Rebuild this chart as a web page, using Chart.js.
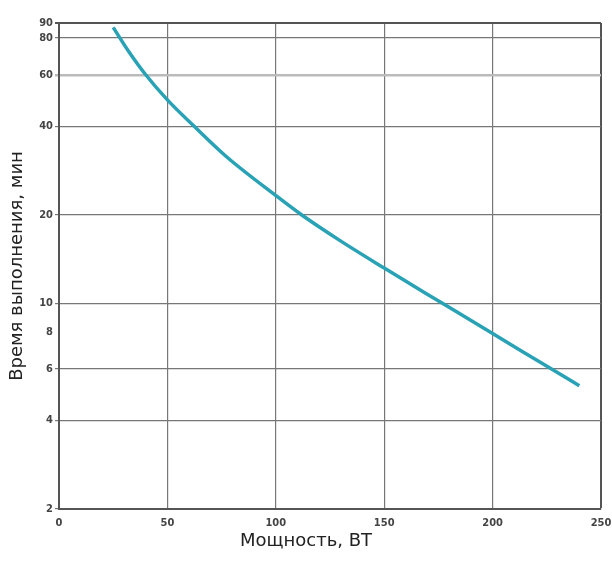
<!DOCTYPE html>
<html>
<head>
<meta charset="utf-8">
<script src="https://cdn.jsdelivr.net/npm/chart.js@4.4.0/dist/chart.umd.min.js"></script>
<style>
  html, body { margin: 0; padding: 0; background: #fff; }
  canvas { display: block; }
</style>
</head>
<body>
<canvas id="chart" width="612" height="563"></canvas>
<script>
// values
const power = [25, 32, 40, 50, 62, 77, 100, 112, 130, 150, 178, 200, 227, 240];
const minutes = [87, 72.3, 60, 49.3, 40.3, 31.7, 23.3, 20, 16.3, 13.2, 9.9, 7.9, 6.0, 5.25];
const yTicks = [2, 4, 6, 8, 10, 20, 40, 60, 80, 90];
const xTicks = [0, 50, 100, 150, 200, 250];

const tickFont = { family: 'DejaVu Sans Condensed', size: 11, weight: 'bold' };
const titleFont = { family: 'DejaVu Sans', size: 18, weight: 'normal', lineHeight: 1.2 };
const titlePadBottom = 11;

const ctx = document.getElementById('chart').getContext('2d');
new Chart(ctx, {
  type: 'line',
  data: {
    datasets: [{
      data: power.map((p, i) => ({ x: p, y: minutes[i] })),
      borderColor: '#29a2b6',
      borderWidth: 3.5,
      pointRadius: 0,
      cubicInterpolationMode: 'monotone',
      fill: false
    }]
  },
  options: {
    responsive: false,
    animation: false,
    layout: { padding: { left: 0, right: 0, top: 23, bottom: 0 } },
    plugins: {
      legend: { display: false },
      tooltip: { enabled: false },
      // x title is centred on the whole page in the original, so use the title plugin
      title: {
        display: true,
        position: 'bottom',
        text: 'Мощность, ВТ',
        color: '#222',
        font: titleFont,
        padding: { top: 0, bottom: titlePadBottom }
      }
    },
    scales: {
      x: {
        type: 'linear',
        min: 0,
        max: 250,
        afterBuildTicks: s => { s.ticks = xTicks.map(v => ({ value: v })); },
        afterFit: s => {
          s.height = 563 - 509 - (titleFont.size * titleFont.lineHeight + titlePadBottom);
          s.paddingLeft = 0;
          s.paddingRight = 11;
        },
        border: { color: '#555', width: 2 },
        grid: {
          drawTicks: false,
          color: c => c.tick && c.tick.value === 250 ? '#555' : '#777',
          lineWidth: c => c.tick && c.tick.value === 250 ? 2 : 1.2
        },
        ticks: { padding: 8, color: '#444', font: tickFont }
      },
      y: {
        type: 'logarithmic',
        min: 2,
        max: 90,
        afterBuildTicks: s => { s.ticks = yTicks.map(v => ({ value: v })); },
        afterFit: s => { s.width = 59; },
        border: { color: '#555', width: 2 },
        grid: {
          tickLength: 4,
          color: c => {
            const v = c.tick && c.tick.value;
            if (v === 8) return 'rgba(0,0,0,0)';
            if (v === 60) return '#bbb';
            if (v === 90) return '#555';
            return '#777';
          },
          lineWidth: c => {
            const v = c.tick && c.tick.value;
            if (v === 60) return 2.5;
            if (v === 90) return 2;
            return 1.2;
          }
        },
        ticks: {
          padding: 2,
          color: '#444',
          font: tickFont,
          callback: v => String(v)
        },
        title: {
          display: true,
          text: 'Время выполнения, мин',
          color: '#222',
          font: titleFont,
          padding: { top: 7, bottom: 0 }
        }
      }
    }
  }
});
</script>
</body>
</html>
